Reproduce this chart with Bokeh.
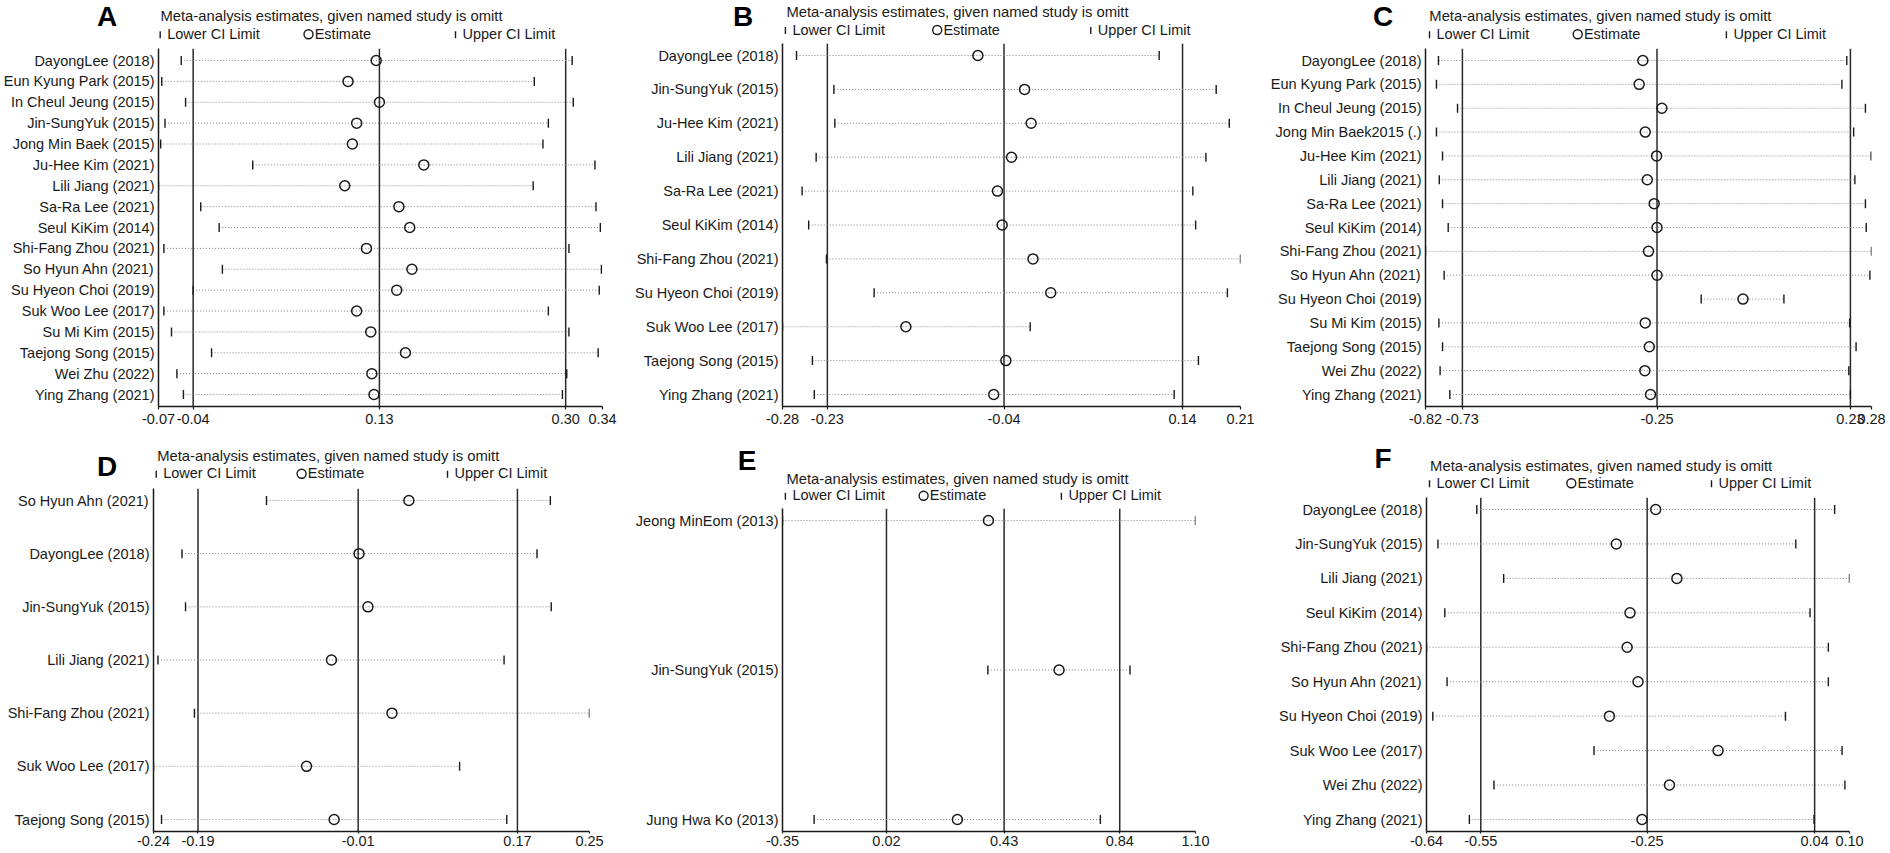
import math
from bokeh.plotting import figure
from bokeh.models import Range1d, FixedTicker, Span
from bokeh.layouts import column, row
from bokeh.embed import file_html
from bokeh.resources import INLINE
from bokeh.core.properties import value

FONT = "Liberation Sans"
TITLE = "Meta-analysis estimates, given named study is omitt"
LEGEND_TEXT = ["Lower CI Limit", "Estimate", "Upper CI Limit"]

# ---------------- Panel A ----------------
studies_a = ["DayongLee (2018)", "Eun Kyung Park (2015)", "In Cheul Jeung (2015)", "Jin-SungYuk (2015)",
             "Jong Min Baek (2015)", "Ju-Hee Kim (2021)", "Lili Jiang (2021)", "Sa-Ra Lee (2021)",
             "Seul KiKim (2014)", "Shi-Fang Zhou (2021)", "So Hyun Ahn (2021)", "Su Hyeon Choi (2019)",
             "Suk Woo Lee (2017)", "Su Mi Kim (2015)", "Taejong Song (2015)", "Wei Zhu (2022)", "Ying Zhang (2021)"]
lower_a = [-0.049, -0.067, -0.045, -0.064, -0.068, 0.017, -0.070, -0.031, -0.014, -0.065, -0.011, -0.038,
           -0.065, -0.058, -0.021, -0.053, -0.047]
est_a = [0.131, 0.105, 0.134, 0.113, 0.109, 0.175, 0.102, 0.152, 0.162, 0.122, 0.164, 0.150,
         0.113, 0.126, 0.158, 0.127, 0.129]
upper_a = [0.312, 0.277, 0.313, 0.290, 0.285, 0.333, 0.276, 0.334, 0.338, 0.309, 0.339, 0.337,
           0.290, 0.309, 0.336, 0.307, 0.303]
ref_a = [-0.038, 0.134, 0.306]
axis_a = [-0.07, 0.34]
ticklabels_a = ["-0.07", "-0.04", "0.13", "0.30", "0.34"]

# ---------------- Panel B ----------------
studies_b = ["DayongLee (2018)", "Jin-SungYuk (2015)", "Ju-Hee Kim (2021)", "Lili Jiang (2021)",
             "Sa-Ra Lee (2021)", "Seul KiKim (2014)", "Shi-Fang Zhou (2021)", "Su Hyeon Choi (2019)",
             "Suk Woo Lee (2017)", "Taejong Song (2015)", "Ying Zhang (2021)"]
lower_b = [-0.265, -0.225, -0.224, -0.244, -0.259, -0.252, -0.233, -0.182, -0.280, -0.248, -0.246]
est_b = [-0.071, -0.021, -0.014, -0.035, -0.050, -0.045, -0.012, 0.007, -0.148, -0.041, -0.054]
upper_b = [0.123, 0.184, 0.198, 0.173, 0.159, 0.162, 0.210, 0.196, -0.015, 0.165, 0.139]
ref_b = [-0.232, -0.043, 0.148]
axis_b = [-0.28, 0.21]
ticklabels_b = ["-0.28", "-0.23", "-0.04", "0.14", "0.21"]

# ---------------- Panel C ----------------
studies_c = ["DayongLee (2018)", "Eun Kyung Park (2015)", "In Cheul Jeung (2015)", "Jong Min Baek2015 (.)",
             "Ju-Hee Kim (2021)", "Lili Jiang (2021)", "Sa-Ra Lee (2021)", "Seul KiKim (2014)",
             "Shi-Fang Zhou (2021)", "So Hyun Ahn (2021)", "Su Hyeon Choi (2019)", "Su Mi Kim (2015)",
             "Taejong Song (2015)", "Wei Zhu (2022)", "Ying Zhang (2021)"]
lower_c = [-0.788, -0.793, -0.741, -0.793, -0.778, -0.786, -0.778, -0.764, -0.820, -0.774, -0.140, -0.787,
           -0.778, -0.784, -0.760]
est_c = [-0.284, -0.293, -0.237, -0.278, -0.250, -0.273, -0.256, -0.249, -0.270, -0.249, -0.037, -0.278,
         -0.268, -0.279, -0.265]
upper_c = [0.219, 0.207, 0.265, 0.236, 0.279, 0.239, 0.265, 0.267, 0.280, 0.276, 0.064, 0.226,
           0.242, 0.224, 0.228]
ref_c = [-0.729, -0.249, 0.228]
axis_c = [-0.82, 0.28]
ticklabels_c = ["-0.82", "-0.73", "-0.25", "0.23", "0.28"]

# ---------------- Panel D ----------------
studies_d = ["So Hyun Ahn (2021)", "DayongLee (2018)", "Jin-SungYuk (2015)", "Lili Jiang (2021)",
             "Shi-Fang Zhou (2021)", "Suk Woo Lee (2017)", "Taejong Song (2015)"]
lower_d = [-0.113, -0.208, -0.204, -0.235, -0.194, -0.240, -0.231]
est_d = [0.047, -0.009, 0.001, -0.040, 0.028, -0.068, -0.037]
upper_d = [0.206, 0.191, 0.207, 0.154, 0.250, 0.104, 0.157]
ref_d = [-0.190, -0.010, 0.169]
axis_d = [-0.24, 0.25]
ticklabels_d = ["-0.24", "-0.19", "-0.01", "0.17", "0.25"]

# ---------------- Panel E ----------------
studies_e = ["Jeong MinEom (2013)", "Jin-SungYuk (2015)", "Jung Hwa Ko (2013)"]
lower_e = [-0.350, 0.371, -0.239]
est_e = [0.373, 0.621, 0.264]
upper_e = [1.100, 0.870, 0.766]
ref_e = [0.015, 0.428, 0.834]
axis_e = [-0.35, 1.10]
ticklabels_e = ["-0.35", "0.02", "0.43", "0.84", "1.10"]

# ---------------- Panel F ----------------
studies_f = ["DayongLee (2018)", "Jin-SungYuk (2015)", "Lili Jiang (2021)", "Seul KiKim (2014)",
             "Shi-Fang Zhou (2021)", "So Hyun Ahn (2021)", "Su Hyeon Choi (2019)", "Suk Woo Lee (2017)",
             "Wei Zhu (2022)", "Ying Zhang (2021)"]
lower_f = [-0.552, -0.620, -0.505, -0.608, -0.640, -0.604, -0.629, -0.347, -0.522, -0.565]
est_f = [-0.239, -0.308, -0.202, -0.284, -0.289, -0.270, -0.320, -0.130, -0.215, -0.263]
upper_f = [0.074, 0.006, 0.100, 0.031, 0.063, 0.063, -0.012, 0.087, 0.092, 0.038]
ref_f = [-0.545, -0.254, 0.039]
axis_f = [-0.64, 0.10]
ticklabels_f = ["-0.64", "-0.55", "-0.25", "0.04", "0.10"]

# ---------------- layout (pixels) ----------------
# width, header height, plot height, border left, border right, border bottom, tick out, standoff
GEOM = {
    "A": (630, 48, 382, 157, 28, 24, 3, 4),
    "B": (630, 43, 387, 152, 20, 24, 3, 4),
    "C": (629, 48, 382, 165, 18, 24, 3, 4),
    "D": (630, 58, 364, 153, 41, 21, 2, 2),
    "E": (630, 78, 344, 152, 65, 21, 2, 2),
    "F": (629, 67, 355, 166, 40, 21, 2, 2),
}
# header positions: title (x, y), legend y, legend key xs (bar, circle centre, bar), letter (x, y)
HEAD = {
    "A": ((159.9, 15.7), 33.3, (158.7, 308.0, 454.0), (106.5, 16.3)),
    "B": ((155.9, 11.7), 29.0, (153.9, 306.7, 459.3), (112.5, 15.5)),
    "C": ((168.8, 15.7), 33.3, (168.0, 317.2, 464.9), (122.5, 16.0)),
    "D": ((156.7, 25.0), 42.7, (154.7, 301.1, 446.0), (106.5, 35.7)),
    "E": ((155.9, 48.3), 64.7, (153.9, 293.1, 429.9), (116.5, 30.0)),
    "F": ((169.6, 35.0), 52.3, (168.0, 310.8, 450.0), (122.5, 28.3)),
}

INK = "#1a1a1a"


def header(letter):
    W, hh = GEOM[letter][0], GEOM[letter][1]
    (tx, ty), ly, (kb1, kc, kb2), (cx, cy) = HEAD[letter]
    h = figure(width=W, height=hh, x_range=Range1d(0, W), y_range=Range1d(hh, 0),
               output_backend="svg", toolbar_location=None, x_axis_location=None,
               y_axis_location=None, min_border=0, frame_align=False)
    h.outline_line_color = None
    h.grid.visible = False
    h.text(x=[tx], y=[ty], text=[TITLE], text_font=value(FONT), text_font_size=value("14.8px"),
           text_baseline="middle", text_align="left", text_color=INK)
    h.text(x=[kb1 + 8, kc + 6.2, kb2 + 8], y=[ly] * 3, text=LEGEND_TEXT, text_font=value(FONT),
           text_font_size=value("14.5px"), text_baseline="middle", text_align="left", text_color=INK)
    h.scatter(x=[kb1 + 1, kb2 + 1], y=[ly + 1, ly + 1], marker="dash", angle=math.pi / 2, size=7,
              line_color=INK, line_width=1.4)
    h.scatter(x=[kc], y=[ly + 0.5], marker="circle", size=9, fill_color=None,
              line_color=INK, line_width=1.4)
    h.text(x=[cx], y=[cy], text=[letter], text_font=value(FONT), text_font_size=value("28px"),
           text_font_style="bold", text_baseline="middle", text_align="center", text_color="#000000")
    return h


def panel(letter, studies, lower, est, upper, ref, axis, ticklabels):
    W, hh, H, bl, br, bb, tout, stand = GEOM[letter]
    n = len(studies)
    frame_h = H - bb
    pad_px = 12
    step = (frame_h - 2 * pad_px) / (n - 1)
    pad = pad_px / step
    ys = list(range(1, n + 1))

    p = figure(width=W, height=H, x_range=Range1d(axis[0], axis[1]),
               y_range=Range1d(n + pad, 1 - pad), output_backend="svg",
               toolbar_location=None, min_border_left=bl, min_border_right=br,
               min_border_top=0, min_border_bottom=bb, frame_align=False)
    p.outline_line_color = None
    p.xgrid.visible = False
    p.ygrid.visible = False

    ticks = [axis[0], ref[0], ref[1], ref[2], axis[1]]
    p.xaxis.ticker = FixedTicker(ticks=ticks)
    p.xaxis.major_label_overrides = {t: s for t, s in zip(ticks, ticklabels)}
    p.xaxis.minor_tick_line_color = None
    p.xaxis.major_tick_out = tout
    p.xaxis.major_tick_in = 0
    p.xaxis.major_tick_line_color = INK
    p.xaxis.major_tick_line_width = 1.2
    p.xaxis.axis_line_color = INK
    p.xaxis.axis_line_width = 1.5
    p.xaxis.major_label_standoff = stand
    p.xaxis.major_label_text_font = FONT
    p.xaxis.major_label_text_font_size = "14.5px"
    p.xaxis.major_label_text_color = INK

    p.yaxis.ticker = FixedTicker(ticks=ys)
    p.yaxis.major_label_overrides = {i + 1: s for i, s in enumerate(studies)}
    p.yaxis.minor_tick_line_color = None
    p.yaxis.major_tick_line_color = None
    p.yaxis.major_tick_out = 0
    p.yaxis.major_tick_in = 0
    p.yaxis.axis_line_color = INK
    p.yaxis.axis_line_width = 1.5
    p.yaxis.major_label_standoff = 4
    p.yaxis.major_label_text_font = FONT
    p.yaxis.major_label_text_font_size = "14.5px"
    p.yaxis.major_label_text_color = INK

    for v in ref:
        p.add_layout(Span(location=v, dimension="height", line_color="#2a2a2a",
                          line_width=1.5, level="underlay"))

    p.segment(x0=lower, y0=ys, x1=upper, y1=ys, line_color="#808080",
              line_width=1, line_dash="1 2")
    p.scatter(x=lower, y=ys, marker="dash", angle=math.pi / 2, size=9,
              line_color=INK, line_width=1.4)
    p.scatter(x=upper, y=ys, marker="dash", angle=math.pi / 2, size=9,
              line_color=INK, line_width=1.4)
    p.scatter(x=est, y=ys, marker="circle", size=10, fill_color=None,
              line_color=INK, line_width=1.5)
    return column(header(letter), p, spacing=0)


pa = panel("A", studies_a, lower_a, est_a, upper_a, ref_a, axis_a, ticklabels_a)
pb = panel("B", studies_b, lower_b, est_b, upper_b, ref_b, axis_b, ticklabels_b)
pc = panel("C", studies_c, lower_c, est_c, upper_c, ref_c, axis_c, ticklabels_c)
pd_ = panel("D", studies_d, lower_d, est_d, upper_d, ref_d, axis_d, ticklabels_d)
pe = panel("E", studies_e, lower_e, est_e, upper_e, ref_e, axis_e, ticklabels_e)
pf = panel("F", studies_f, lower_f, est_f, upper_f, ref_f, axis_f, ticklabels_f)

layout = column(row(pa, pb, pc, spacing=0), row(pd_, pe, pf, spacing=0), spacing=0)

with open("out.html", "w") as fh:
    fh.write(file_html(layout, INLINE))
